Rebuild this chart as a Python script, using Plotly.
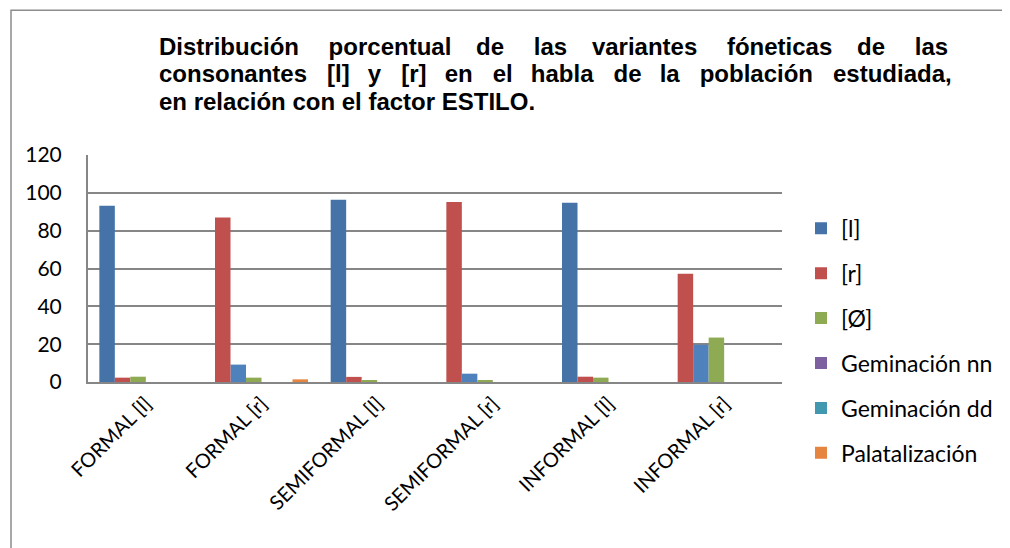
import plotly.graph_objects as go

categories = ["FORMAL [l]", "FORMAL [r]", "SEMIFORMAL [l]", "SEMIFORMAL [r]", "INFORMAL [l]", "INFORMAL [r]"]
series_names = ["[l]", "[r]", "[Ø]", "Geminación nn", "Geminación dd", "Palatalización"]
val_l = [93.2, 9.2, 96.4, 4.4, 94.8, 19.7]
val_r = [2.3, 86.9, 2.7, 95.1, 2.8, 57.2]
val_zero = [2.8, 2.3, 0.9, 1.0, 2.3, 23.5]
val_nn = [0, 0, 0, 0, 0, 0]
val_dd = [0, 0, 0, 0, 0, 0]
val_pal = [0, 1.4, 0, 0, 0, 0]
y_ticks = [0, 20, 40, 60, 80, 100, 120]
# title lines (justified in the original with wider word gaps)
G1 = " \u00a0\u00a0\u2009"
G2 = " \u00a0\u00a0\u2009\u2009"
GA = " \u00a0\u00a0"
GB = " \u00a0\u2009"
title_lines = [
    "Distribución" + G2 + "porcentual" + G1 + "de" + G2 + "las" + G1 + "variantes" + G2
    + "fóneticas" + G1 + "de" + G2 + "las",
    "consonantes" + GA + "[l]" + GB + "y" + GA + "[r]" + GB + "en" + GA + "el" + GB
    + "habla" + GA + "de" + GB + "la" + GA + "población" + GA + "estudiada,",
    "en relación con el factor ESTILO.",
]

series_values = [val_l, val_r, val_zero, val_nn, val_dd, val_pal]
colors = ["#4573A8", "#C0504D", "#8EAA52", "#7D60A0", "#4198AF", "#E5853F"]

# bar order inside each category: the category's own consonant comes first
order_l = ["[l]", "[r]", "[Ø]", "Geminación nn", "Geminación dd", "Palatalización"]
order_r = ["[r]", "[l]", "[Ø]", "Geminación nn", "Geminación dd", "Palatalización"]

bar_w = 0.134
start = -3 * bar_w

fig = go.Figure()
for i, (name, vals) in enumerate(zip(series_names, series_values)):
    offsets = []
    pt_colors = []
    for c in categories:
        is_r = c.endswith("[r]")
        order = order_r if is_r else order_l
        offsets.append(start + order.index(name) * bar_w)
        if name == "[l]" and is_r:
            pt_colors.append("#4F81BD")
        else:
            pt_colors.append(colors[i])
    fig.add_trace(go.Bar(
        x=categories, y=vals, name=name, width=bar_w, offset=offsets,
        marker=dict(color=pt_colors, line=dict(width=0)),
        legendgroup=name,
    ))

# page has an 8px body margin, so the figure is laid out 8px smaller
OFF = 8
W, H = 1010 - OFF, 548 - OFF
plot_l, plot_r, plot_t, plot_b = 88 - OFF, 782 - OFF, 155.3 - OFF, 381.7 - OFF
pw, ph = plot_r - plot_l, plot_b - plot_t

fig.update_layout(
    width=W, height=H,
    margin=dict(l=plot_l, r=W - plot_r, t=plot_t, b=H - plot_b, autoexpand=False),
    paper_bgcolor="white", plot_bgcolor="white",
    barmode="overlay",
    showlegend=True,
    legend=dict(
        x=(801 - OFF - plot_l) / pw, xanchor="left", y=(plot_b - (207 - OFF)) / ph, yanchor="top",
        font=dict(family="Lato", size=23, color="#000000"),
        tracegroupgap=12, bgcolor="rgba(0,0,0,0)", maxheight=600,
    ),
    font=dict(family="Lato", color="#000000"),
)
fig.update_xaxes(
    type="category", showline=True, linecolor="#868686", linewidth=2,
    showgrid=False, tickangle=-45, tickfont=dict(family="Lato", size=20, color="#000000"),
    ticks="", range=[-0.5, 5.5],
)
fig.update_yaxes(
    range=[0, 120], tickvals=y_ticks, showgrid=True, gridcolor="#868686", gridwidth=2,
    showline=True, linecolor="#868686", linewidth=2, zeroline=False,
    tickfont=dict(family="Lato", size=21, color="#000000"), ticks="",
    ticklabelstandoff=20,
)

title_y = [47, 74.5, 102]
for line, yp in zip(title_lines, title_y):
    fig.add_annotation(
        text="<b>" + line + "</b>", xref="paper", yref="paper",
        x=(157 - OFF - plot_l) / pw, xanchor="left",
        y=(plot_b - (yp - OFF)) / ph, yanchor="middle",
        showarrow=False, font=dict(family="Liberation Sans", size=24, color="#000000"),
    )

fig.add_shape(type="rect", xref="paper", yref="paper",
              x0=(11 - OFF - plot_l) / pw, y0=-1.0, x1=1.5, y1=(plot_b - (11 - OFF)) / ph,
              line=dict(color="#8C8C8C", width=1.5), fillcolor="rgba(0,0,0,0)", layer="below")

fig.write_html("out.html")
